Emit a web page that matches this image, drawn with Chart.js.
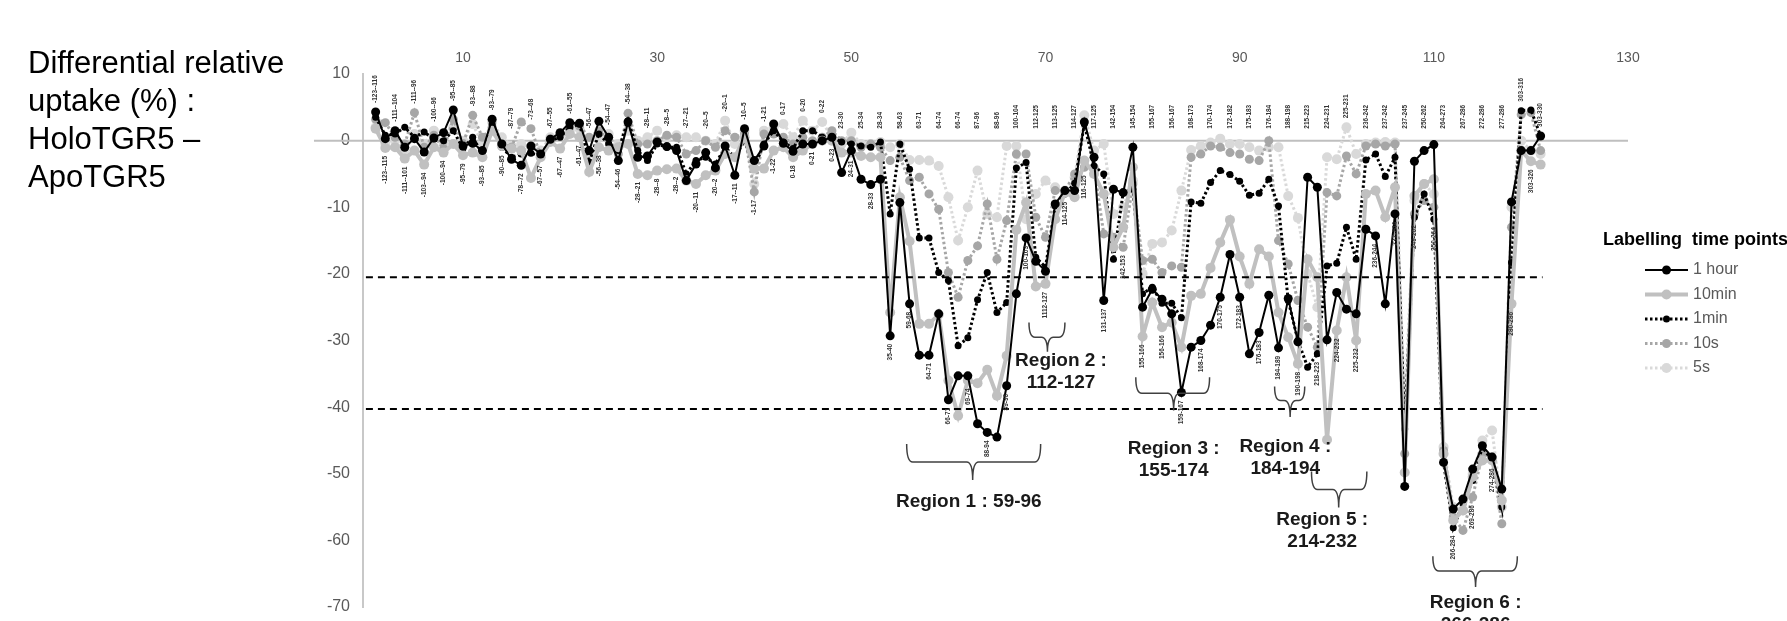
<!DOCTYPE html>
<html>
<head>
<meta charset="utf-8">
<script src="https://cdn.jsdelivr.net/npm/chart.js@4.4.1/dist/chart.umd.min.js"></script>
<style>
  html, body { margin: 0; padding: 0; background: #fff; }
  #wrap { width: 1787px; height: 621px; position: relative; }
</style>
</head>
<body>
<div id="wrap"><canvas id="uptakeChart"></canvas></div>
<script>
// peptide order along the x axis (position = index + 1)
const peptides = [
  '-123--116', '-123--115', '-111--104', '-111--101', '-111--96', '-103--94', '-100--96', '-100--94', '-95--85', '-95--79',
  '-93--88', '-93--85', '-93--79', '-90--85', '-87--79', '-78--72', '-73--68', '-67--57', '-67--55', '-67--47',
  '-61--55', '-61--47', '-56--47', '-56--38', '-54--47', '-54--46', '-54--38', '-28--21', '-28--11', '-28--8',
  '-28--5', '-28--2', '-27--21', '-20--11', '-20--5', '-20--2', '-20--1', '-17--11', '-10--5', '-1-17',
  '-1-21', '-1-22', '0-17', '0-18', '0-20', '0-21', '0-22', '0-23', '23-30', '24-31',
  '25-34', '28-33', '28-34', '35-40', '58-63', '59-68', '63-71', '64-71', '64-74', '66-71',
  '66-74', '69-74', '87-96', '88-94', '88-96', '89-96', '100-104', '100-103', '112-125', '1112-127',
  '113-125', '114-125', '114-127', '116-125', '117-125', '131-137', '142-154', '142-153', '145-154', '155-166',
  '155-167', '156-166', '156-167', '159-167', '168-173', '168-174', '170-174', '170-175', '172-182', '172-183',
  '175-183', '176-183', '176-184', '184-189', '188-198', '190-198', '215-223', '218-223', '224-231', '224-232',
  '225-231', '225-232', '236-242', '236-244', '237-242', '237-244', '237-245', '249-262', '250-262', '250-264',
  '264-273', '266-284', '267-286', '269-286', '272-286', '274-286', '277-286', '280-286', '303-316', '303-326',
  '303-330'
];

// differential relative uptake (%) per labelling time
const hour1 = [
  4.3, 0.3, 1.5, -1.0, 0.3, -1.7, 0.4, 1.2, 4.6, -0.8,
  -0.4, -1.5, 3.2, -0.5, -2.8, -3.7, -0.8, -2.0, 0.2, 1.2,
  2.7, 2.6, -1.5, 2.9, 0.5, -3.0, 2.8, -2.5, -2.3, -0.2,
  -0.9, -1.5, -6.0, -3.5, -1.8, -4.1, -0.8, -5.2, 1.8, -3.0,
  -0.8, 2.5, -0.4, -1.6, -0.5, -0.5, 0.0, 0.5, -4.8, -1.5,
  -5.8, -6.6, -5.8, -29.3, -9.3, -24.5, -32.2, -32.2, -26.0, -38.9,
  -35.3, -35.3, -42.5, -43.8, -44.5, -36.8, -23.0, -14.6, -18.1, -19.6,
  -9.5, -7.5, -7.5, 2.8, -2.5, -24.0, -7.3, -7.8, -1.0, -25.0,
  -22.3, -23.8, -26.0, -37.8, -31.0, -30.0, -27.7, -23.5, -17.1, -23.5,
  -32.0, -28.8, -23.2, -31.1, -23.7, -30.2, -5.5, -7.0, -29.9, -22.8,
  -25.3, -26.0, -13.3, -14.3, -24.5, -11.0, -51.9, -3.1, -1.5, -0.6,
  -48.3, -55.3, -53.8, -49.3, -45.8, -47.5, -52.3, -9.2, -1.5, -1.5,
  0.7
];
const min10 = [
  1.8, -1.1, -1.0, -2.7, -1.5, -3.6, -1.0, -1.8, -0.5, -2.2,
  -1.8, -2.5, 1.5, -0.8, -1.2, -1.5, -5.6, -2.5, -0.2, -1.2,
  1.0, 0.5, -4.7, -1.0, -1.5, -1.0, -0.5, -5.0, -5.2, -4.5,
  -4.3, -4.2, -6.0, -6.5, -5.2, -4.5, -2.0, -2.5, 0.5, -4.2,
  -4.2, -1.5, -1.0, -2.5, -1.5, -0.5, 0.0, 0.0, -1.8, -1.8,
  -2.3, -2.5, -2.5, -25.8, -8.5, -15.1, -27.5, -27.5, -26.1, -36.0,
  -41.3, -36.0, -36.4, -34.4, -38.3, -32.3, -13.4, -9.3, -21.9, -21.5,
  -11.8, -7.8, -8.5, -3.0, -5.0, -8.0, -16.0, -13.0, -4.0, -29.4,
  -24.3, -28.0, -27.3, -31.0, -23.3, -23.0, -19.1, -15.3, -11.9, -17.4,
  -21.5, -16.3, -17.4, -25.8, -29.5, -33.5, -17.8, -20.5, -44.9, -28.5,
  -20.5, -30.0, -8.0, -7.5, -11.5, -7.0, -49.8, -8.3, -6.5, -5.8,
  -47.0, -57.0, -55.5, -50.5, -48.0, -48.0, -54.0, -24.5, -1.5, -3.1,
  -3.6
];
const min1 = [
  3.5, 0.8, 1.0, 2.0, 0.5, 1.3, 0.2, 0.0, 1.5, -1.2,
  0.5, -2.0, 2.5, -1.0, -2.5, -2.0, -1.9, -2.2, 0.0, 0.5,
  2.0, 2.5, -3.2, 1.0, -0.5, -1.5, 3.0, -1.5, -3.0, -0.5,
  -1.0, -1.0, -5.0, -3.0, -2.5, -3.5, -1.0, -2.5, 0.0, -4.0,
  -0.5, 1.5, -0.2, -1.2, 1.5, 1.5, 0.5, 0.5, -0.2, -0.5,
  -0.8, -1.0, -0.2, -11.0, -0.5, -4.3, -14.6, -14.6, -19.8, -21.0,
  -30.8, -29.6, -23.9, -19.8, -25.8, -24.3, -4.1, -3.3, -17.5, -19.0,
  -9.8, -8.0, -6.4, 2.5, -3.8, -5.0, -17.8, -7.8, -7.3, -23.0,
  -22.0, -24.4, -24.4, -26.6, -9.2, -9.4, -6.3, -4.5, -5.1, -6.1,
  -8.2, -7.9, -5.8, -9.8, -24.0, -30.0, -34.0, -32.0, -18.8, -18.4,
  -13.0, -17.8, -2.9, -2.0, -5.4, -2.5, -43.3, -11.5, -8.0, -11.8,
  -48.3, -58.1, -54.5, -51.0, -46.0, -48.0, -55.0, -18.3, 4.5, 4.6,
  0.7
];
const sec10 = [
  3.2, 2.7, 0.5, -0.5, 4.2, -1.0, 0.8, -1.2, 3.2, -0.5,
  3.8, 0.5, 2.0, -0.5, -1.0, 2.8, 1.8, -2.2, 0.3, 1.0,
  2.0, 2.2, 0.5, 1.5, 0.2, -2.0, 4.1, -0.5, -0.5, 0.0,
  0.8, 0.5, -2.0, -1.5, 0.0, -1.0, 1.5, 0.5, 1.0, -7.7,
  1.0, 1.0, 0.5, -0.5, 0.5, 0.0, 0.5, 1.5, 0.0, 0.0,
  -1.0, -0.5, -1.0, -3.0, -2.5, -6.0, -5.5, -8.0, -10.3, -19.8,
  -23.5, -18.0, -15.8, -9.5, -17.8, -12.0, -2.0, -2.0, -11.5, -14.5,
  -7.5, -7.5, -5.0, -4.0, -4.0, -14.0, -14.5, -16.0, -6.5, -18.0,
  -17.8, -19.8, -18.8, -19.0, -2.5, -2.0, -0.8, -1.0, -1.8, -2.0,
  -2.8, -3.0, 0.0, -15.0, -18.5, -24.0, -28.0, -31.0, -7.8, -8.3,
  -2.3, -5.0, -0.8, -0.5, -0.8, -0.5, -47.0, -11.0, -9.0, -10.0,
  -46.5, -56.5, -58.5, -53.5, -47.0, -47.5, -57.5, -13.0, 3.9, 4.2,
  -1.5
];
const sec5 = [
  2.0, -0.5, 0.0, -1.5, 1.0, -0.5, 1.5, -0.5, 2.0, 0.0,
  2.5, -0.5, 2.8, 0.5, -0.8, -0.5, -1.0, -1.5, 0.5, 0.8,
  1.5, 1.8, -2.0, 0.5, 1.0, -0.5, 1.5, 0.0, 0.5, 1.5,
  0.5, 0.8, 0.5, 0.5, 0.0, -0.5, 3.0, -0.5, 1.5, -6.5,
  1.5, 2.0, 2.5, 0.5, 3.0, 1.5, 2.8, 0.5, -0.5, 1.2,
  -0.5, -0.5, -0.2, -1.0, -0.5, -2.9, -2.9, -3.0, -3.8, -8.5,
  -15.0, -10.0, -4.5, -11.0, -11.5, -0.8, -0.8, -11.8, -8.0, -6.0,
  -7.0, -7.5, -5.5, 3.8, -1.5, -0.5, -11.0, -10.0, -6.0, -20.0,
  -15.5, -15.3, -13.5, -7.5, -1.4, -0.8, -0.3, 0.3, -0.5, -0.5,
  -1.0, -1.5, -1.0, -1.0, -8.3, -11.6, -20.0, -25.0, -2.5, -2.8,
  2.0, -2.0, -0.5, -0.3, -0.2, -0.3, -40.0, -9.0, -6.5, -8.0,
  -46.0, -55.0, -55.5, -50.0, -45.0, -43.5, -55.0, -10.0, 0.0, -1.5,
  -2.0
];

const xTicks = [10, 30, 50, 70, 90, 110, 130];
const yTicks = [10, 0, -10, -20, -30, -40, -50, -60, -70];
const thresholds = [-20.5, -40.3];
const thresholdEnd = 121.2;
const zeroLineStart = -5.35;

const FONT = '"Liberation Sans", Arial, Helvetica, sans-serif';

// region braces, in data units
const regions = [
  { lines: ['Region 1 : 59-96'], x0: 55.7, x1: 69.5, xm: 62.5, yTop: -45.55, yMid: -48.25, yTip: -50.95, tx: 62.1, ty: -54.15 },
  { lines: ['Region 2 :', '112-127'], x0: 68.3, x1: 72.0, xm: 70.2, yTop: -27.3, yMid: -29.5, yTip: -31.7, tx: 71.6, ty: -33.0 },
  { lines: ['Region 3 :', '155-174'], x0: 79.3, x1: 86.9, xm: 83.2, yTop: -35.5, yMid: -37.9, yTip: -40.5, tx: 83.2, ty: -46.2 },
  { lines: ['Region 4 :', '184-194'], x0: 93.6, x1: 96.7, xm: 95.2, yTop: -36.9, yMid: -39.0, yTip: -41.5, tx: 94.7, ty: -45.9 },
  { lines: ['Region 5 :', '214-232'], x0: 97.4, x1: 103.1, xm: 100.2, yTop: -49.65, yMid: -52.35, yTip: -55.05, tx: 98.5, ty: -56.95 },
  { lines: ['Region 6 :', '266-286'], x0: 109.9, x1: 118.6, xm: 114.3, yTop: -62.4, yMid: -64.6, yTip: -67.0, tx: 114.3, ty: -69.4 }
];

const toPoints = arr => arr.map((v, i) => ({ x: i + 1, y: v }));

function series(label, values, color, width, dash, radius) {
  return {
    label: label,
    data: toPoints(values),
    borderColor: color,
    backgroundColor: color,
    borderWidth: width,
    borderDash: dash,
    pointRadius: radius,
    pointBorderWidth: 0,
    pointBackgroundColor: color,
    tension: 0
  };
}

function threshold(y) {
  return {
    label: 'threshold',
    data: [{ x: 0, y: y }, { x: thresholdEnd, y: y }],
    borderColor: '#000',
    borderWidth: 2,
    borderDash: [7, 5],
    pointRadius: 0,
    order: -1
  };
}

const overlay = {
  id: 'overlay',
  beforeDatasetsDraw(chart) {
    const { ctx, scales: { x, y } } = chart;
    ctx.save();
    ctx.strokeStyle = '#bfbfbf';
    ctx.lineWidth = 2;
    ctx.beginPath();
    ctx.moveTo(x.getPixelForValue(zeroLineStart), y.getPixelForValue(0));
    ctx.lineTo(x.getPixelForValue(130), y.getPixelForValue(0));
    ctx.stroke();
    ctx.restore();
  },
  afterDatasetsDraw(chart) {
    const { ctx, scales: { x, y } } = chart;
    const all = [hour1, min10, min1, sec10, sec5];
    ctx.save();
    // peptide labels, alternating above / below the points
    ctx.fillStyle = '#333';
    ctx.font = 'bold 6.5px ' + FONT;
    ctx.textBaseline = 'middle';
    peptides.forEach((p, i) => {
      const vals = all.map(s => s[i]);
      const px = x.getPixelForValue(i + 1);
      ctx.save();
      if (i % 2 === 0) {
        const yy = Math.min(y.getPixelForValue(Math.max(...vals)) - 9, y.getPixelForValue(0) - 12);
        ctx.translate(px, yy);
        ctx.rotate(-Math.PI / 2);
        ctx.textAlign = 'left';
      } else {
        const yy = y.getPixelForValue(Math.min(...vals)) + 8;
        ctx.translate(px, yy);
        ctx.rotate(-Math.PI / 2);
        ctx.textAlign = 'right';
      }
      ctx.fillText(p, 0, 0);
      ctx.restore();
    });

    // region braces
    ctx.strokeStyle = '#404040';
    ctx.lineWidth = 1.5;
    regions.forEach(r => {
      const x0 = x.getPixelForValue(r.x0), x1 = x.getPixelForValue(r.x1), xm = x.getPixelForValue(r.xm);
      const yt = y.getPixelForValue(r.yTop), ym = y.getPixelForValue(r.yMid), yp = y.getPixelForValue(r.yTip);
      const c = 6;
      ctx.beginPath();
      ctx.moveTo(x0, yt);
      ctx.quadraticCurveTo(x0, ym, x0 + c, ym);
      ctx.lineTo(xm - c, ym);
      ctx.quadraticCurveTo(xm, ym, xm, yp);
      ctx.quadraticCurveTo(xm, ym, xm + c, ym);
      ctx.lineTo(x1 - c, ym);
      ctx.quadraticCurveTo(x1, ym, x1, yt);
      ctx.stroke();

      ctx.fillStyle = '#1a1a1a';
      ctx.font = 'bold 19px ' + FONT;
      ctx.textAlign = 'center';
      ctx.textBaseline = 'middle';
      const tx = x.getPixelForValue(r.tx), ty = y.getPixelForValue(r.ty);
      r.lines.forEach((l, k) => ctx.fillText(l, tx, ty + k * 22));
    });
    ctx.restore();
  },
  afterDraw(chart) {
    const { ctx } = chart;
    ctx.save();
    // y axis title on the left
    ctx.fillStyle = '#000';
    ctx.font = '31px ' + FONT;
    ctx.textAlign = 'left';
    ctx.textBaseline = 'middle';
    ['Differential relative', 'uptake (%) :', 'HoloTGR5 \u2013', 'ApoTGR5'].forEach((t, k) => {
      ctx.fillText(t, 28, 64 + k * 38);
    });

    // legend
    ctx.font = 'bold 18px ' + FONT;
    ctx.fillText('Labelling  time points', 1603, 240);
    ctx.font = '16px ' + FONT;
    chart.data.datasets.slice(0, 5).forEach((ds, k) => {
      const ly = 270 + k * 24.5;
      ctx.strokeStyle = ds.borderColor;
      ctx.lineWidth = ds.borderWidth;
      ctx.setLineDash(ds.borderDash || []);
      ctx.beginPath();
      ctx.moveTo(1645, ly);
      ctx.lineTo(1688, ly);
      ctx.stroke();
      ctx.setLineDash([]);
      ctx.fillStyle = ds.pointBackgroundColor;
      ctx.beginPath();
      ctx.arc(1666.5, ly, ds.pointRadius, 0, Math.PI * 2);
      ctx.fill();
      ctx.fillStyle = '#595959';
      ctx.fillText(ds.label, 1693, ly);
    });
    ctx.restore();
  }
};

new Chart(document.getElementById('uptakeChart').getContext('2d'), {
  type: 'line',
  data: {
    datasets: [
      series('1 hour', hour1, '#000000', 2, [], 4.5),
      series('10min', min10, '#c0c0c0', 4, [], 5),
      series('1min', min1, '#000000', 3, [2.5, 2.5], 3.5),
      series('10s', sec10, '#a6a6a6', 3, [2.5, 2.5], 4.5),
      series('5s', sec5, '#d9d9d9', 3, [2.5, 2.5], 5),
      threshold(thresholds[0]),
      threshold(thresholds[1])
    ]
  },
  options: {
    responsive: true,
    maintainAspectRatio: false,
    animation: false,
    layout: { padding: { top: 48, left: 313, right: 159, bottom: 14 } },
    plugins: {
      legend: { display: false },
      tooltip: { enabled: false }
    },
    scales: {
      x: {
        type: 'linear',
        position: 'top',
        min: -0.3,
        max: 130,
        grid: { display: false, drawTicks: false },
        border: { display: false },
        afterBuildTicks: s => { s.ticks = xTicks.map(v => ({ value: v })); },
        afterFit: s => { s.height = 26; },
        ticks: { color: '#595959', font: { family: FONT, size: 14 }, padding: 7, maxRotation: 0, autoSkip: false }
      },
      y: {
        min: -70,
        max: 10,
        afterBuildTicks: s => { s.ticks = yTicks.map(v => ({ value: v })); },
        afterFit: s => { s.width = 50; s.paddingTop = 0; s.paddingBottom = 0; },
        grid: { display: false, drawTicks: false },
        border: { color: '#c8c8c8', width: 2 },
        ticks: { color: '#595959', font: { family: FONT, size: 16 }, padding: 13 }
      }
    }
  },
  plugins: [overlay]
});
</script>
</body>
</html>
